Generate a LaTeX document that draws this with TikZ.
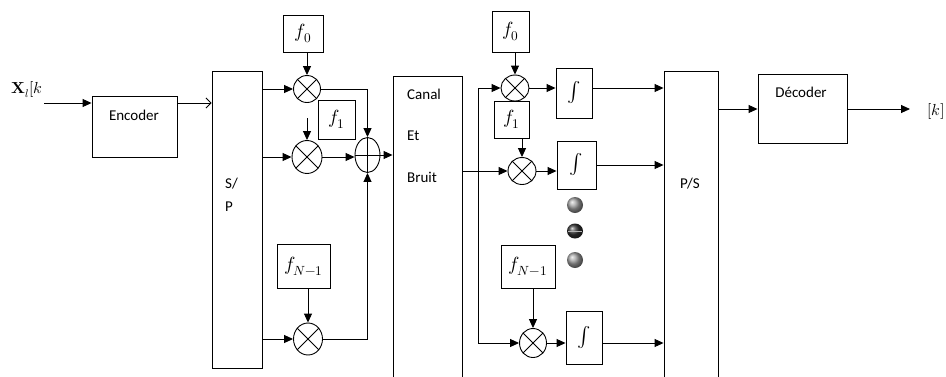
\documentclass[tikz,border=0pt]{standalone}
\usepackage{fontspec}
\usepackage{unicode-math}
\setmainfont{Carlito}
\setmathfont{Latin Modern Math}
\usetikzlibrary{shapes.geometric,arrows.meta}
\begin{document}
\begin{tikzpicture}[x=1pt,y=-1pt,
  every node/.style={font=\fontsize{15}{18}\selectfont, inner sep=0pt},
  blk/.style={draw, line width=0.9pt, inner sep=0pt},
  mathlbl/.style={font=\fontsize{19}{22}\selectfont},
  intlbl/.style={font=\fontsize{20}{24}\selectfont},
  mult/.style={draw, ellipse, line width=0.9pt, inner sep=0pt},
  ln/.style={line width=0.9pt},
  arr/.style={line width=0.9pt, -{Triangle[length=9pt,width=8pt]}},
  openarr/.style={line width=0.9pt, -{Straight Barb[length=5pt,width=10pt]}},
  ]
\clip (0,0) rectangle (946,376);
\fill[white] (0,0) rectangle (946,376);

% input / encoder
\node[font=\fontsize{16}{19}\selectfont] (xin) at (27,90) {$\symbfup{X}_l[k$};
\coordinate (inS) at (44,103);
\node[blk, minimum width=85pt, minimum height=61pt] (enc) at (134.5,126.5) {};
\node (encT) at (134,115) {Encoder};

% S/P
\node[blk, minimum width=50pt, minimum height=297pt] (sp) at (237,219.5) {};
\node[anchor=west] (spT1) at (225,184) {S/};
\node[anchor=west] (spT2) at (225,207) {P};

% transmitter branches
\node[blk, mathlbl, minimum width=40pt, minimum height=37pt] (f0a) at (303,33.5) {$f_0$};
\node[mult, minimum width=27pt, minimum height=27pt] (m1) at (307,89) {};
\coordinate (c2) at (307,118);
\node[mult, minimum width=30pt, minimum height=33pt] (m2) at (307,157) {};
\node[blk, mathlbl, minimum width=37pt, minimum height=39pt] (f1a) at (336.5,119.5) {$f_1$};
\node[mult, minimum width=25pt, minimum height=35pt] (add) at (367.5,155) {};
\node[blk, mathlbl, minimum width=53pt, minimum height=44pt] (fNa) at (303.5,266) {$f_{N-1}$};
\node[mult, minimum width=29pt, minimum height=32pt] (mN) at (308,339) {};

% channel
\node[blk, minimum width=69pt, minimum height=320pt] (canal) at (427.5,236) {};
\node[anchor=west] (cT1) at (407,94) {Canal};
\node[anchor=west] (cT2) at (407,136) {Et};
\node[anchor=west] (cT3) at (407,177) {Bruit};

% receiver branches
\node[blk, mathlbl, minimum width=37pt, minimum height=41pt] (f0b) at (510.5,31.5) {$f_0$};
\node[mult, minimum width=28pt, minimum height=26pt] (mR1) at (515,88) {};
\node[blk, intlbl, minimum width=36pt, minimum height=50pt] (i1) at (574,93) {$\int$};
\node[blk, mathlbl, minimum width=35pt, minimum height=37pt] (f1b) at (511.5,119.5) {$f_1$};
\node[mult, minimum width=28pt, minimum height=27pt] (mR2) at (522,171) {};
\node[blk, intlbl, minimum width=39pt, minimum height=48pt] (i2) at (576.5,165) {$\int$};
\node[blk, mathlbl, minimum width=54pt, minimum height=43pt] (fNb) at (528,266.5) {$f_{N-1}$};
\node[mult, minimum width=27pt, minimum height=29pt] (mRN) at (533,343) {};
\node[blk, intlbl, minimum width=36pt, minimum height=53pt] (iN) at (584,337.5) {$\int$};
\coordinate (busT) at (478,88);

% dots
\shade[ball color=gray!75] (575,205) circle (8pt);
\shade[ball color=black!80] (575,231) ellipse (8pt and 7.5pt);
\draw[gray!60, line width=0.8pt] (568,231) -- (582,231);
\shade[ball color=gray!75] (575,260) circle (8pt);

% P/S and decoder
\node[blk, minimum width=54pt, minimum height=320pt] (ps) at (691,231) {};
\node (psT) at (690,184) {P/S};
\node[blk, minimum width=89pt, minimum height=69pt] (dec) at (802.5,109) {};
\node (decT) at (801,92) {Décoder};
\coordinate (outE) at (910,109);
\node[font=\fontsize{16}{19}\selectfont] (outk) at (936,111) {$[k]$};

% crosses
\foreach \n in {m1,m2,mN,mR1,mR2,mRN}
  \draw[ln] (\n.45) -- (\n.225) (\n.135) -- (\n.315);
\draw[ln] (add.north) -- (add.south) (add.west) -- (add.east);

% connectors: transmitter
\draw[arr] (inS) -- (enc.west |- inS);
\draw[openarr] (enc.east |- inS) -- (sp.west |- inS);
\draw[arr] (sp.east |- m1.west) -- (m1.west);
\draw[arr] (f0a.south -| m1) -- (m1.north);
\draw[arr] (m1.east) -| (add.north);
\draw[arr] (c2) -- (m2.north);
\draw[arr] (sp.east |- m2.west) -- (m2.west);
\draw[arr] (m2.east) -- (m2.east -| add.west);
\draw[arr] (add.east) -- (add.east -| canal.west);
\draw[arr] (sp.east |- mN.west) -- (mN.west);
\draw[arr] (fNa.south -| mN) -- (mN.north);
\draw[arr] (mN.east) -| (add.south);

% connectors: receiver
\draw[arr] (canal.east |- mR2.west) -- (mR2.west);
\draw[arr] (busT) -- (mR1.west);
\draw[arr] (busT) |- (mRN.west);
\draw[arr] (f0b.south -| mR1) -- (mR1.north);
\draw[arr] (mR1.east) -- (mR1.east -| i1.west);
\draw[arr] (i1.east |- mR1.east) -- (ps.west |- mR1.east);
\draw[arr] (f1b.south -| mR2) -- (mR2.north);
\draw[arr] (mR2.east) -- (mR2.east -| i2.west);
\draw[arr] (i2.east) -- (i2.east -| ps.west);
\draw[arr] (fNb.south -| mRN) -- (mRN.north);
\draw[arr] (mRN.east) -- (mRN.east -| iN.west);
\draw[arr] (iN.east |- mRN.east) -- (ps.west |- mRN.east);
\draw[arr] (ps.east |- dec.west) -- (dec.west);
\draw[arr] (dec.east) -- (outE);
\end{tikzpicture}
\end{document}
